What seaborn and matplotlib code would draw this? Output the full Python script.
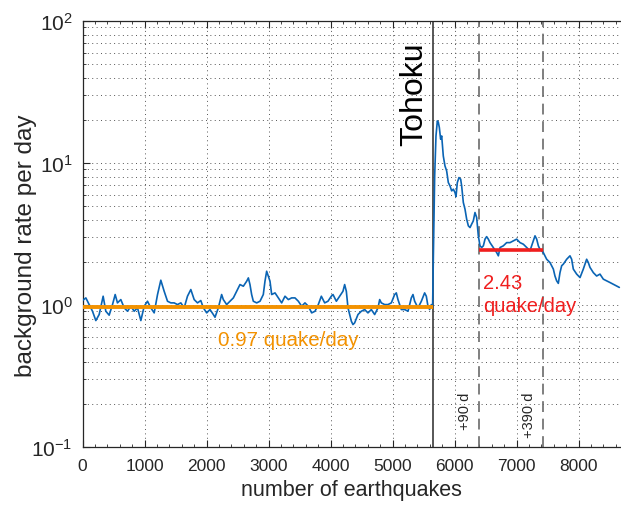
import numpy as np
import pandas as pd
import matplotlib
matplotlib.use("Agg")
import matplotlib.pyplot as plt
import seaborn as sns
from matplotlib.ticker import LogLocator, MultipleLocator, NullFormatter

# ---------------- data ----------------
eq_before = [0, 54, 108, 161, 215, 269, 333, 376, 430, 484, 527, 564, 618, 672, 726, 780,
             833, 887, 941, 995, 1048, 1102, 1156, 1210, 1263, 1317, 1371, 1425, 1478, 1532,
             1586, 1640, 1693, 1747, 1801, 1855, 1908,
             1949, 2003, 2056, 2110, 2137, 2191, 2244, 2271, 2325, 2379, 2433, 2486, 2540,
             2594, 2648, 2675, 2701, 2728, 2755, 2809, 2863, 2916, 2943, 2970, 2997, 3024,
             3051, 3105, 3158, 3212, 3266, 3320, 3373, 3427, 3481, 3535, 3588, 3642, 3696,
             3750, 3803,
             3852, 3906, 3959, 4013, 4040, 4094, 4147, 4201, 4228, 4255, 4282, 4309, 4336,
             4362, 4389, 4443, 4497, 4551, 4604, 4658, 4712, 4766, 4793, 4819, 4873, 4927,
             4981, 5034, 5061, 5088, 5142, 5196, 5250, 5303, 5330, 5357, 5411, 5465, 5518,
             5545, 5572, 5599, 5626]
rate_before = [1.075, 1.122, 1.007, 0.904, 0.777, 0.857, 1.153, 0.904, 0.848, 1.007, 1.185,
               1.035, 1.092, 0.955, 0.904, 0.980, 0.904, 0.955, 0.777, 0.980, 1.063, 0.955,
               0.880, 1.185, 1.495, 1.250, 1.063, 1.035, 1.035, 1.007, 1.035, 0.955, 1.153,
               1.285, 1.092, 1.035, 1.075,
               0.955, 0.880, 0.929, 0.857, 0.820, 0.955, 1.185, 1.092, 1.007, 1.063, 1.122,
               1.250, 1.393, 1.356, 1.471, 1.552, 1.393, 1.185, 1.063, 1.035, 1.063, 1.185,
               1.471, 1.729, 1.595, 1.471, 1.185, 1.217, 1.122, 1.035, 1.153, 1.092, 1.122,
               1.122, 1.063, 0.980, 1.035, 0.980, 0.880, 0.904, 1.007,
               1.153, 1.035, 1.063, 1.153, 1.185, 1.063, 1.153, 1.250, 1.393, 1.250, 0.955,
               0.857, 0.769, 0.728, 0.748, 0.857, 0.904, 0.929, 0.880, 0.929, 0.857, 0.955,
               1.092, 1.035, 1.007, 1.007, 1.035, 1.185, 1.217, 1.092, 0.929, 0.929, 0.904,
               1.122, 1.185, 1.063, 0.955, 1.063, 1.217, 1.153, 0.980, 0.929, 1.007]

eq_after = [5647, 5658, 5680, 5701, 5723, 5739, 5755, 5776, 5793, 5819, 5846, 5873, 5900,
            5927, 5954, 5981, 6008, 6024, 6045, 6072, 6099, 6115, 6142, 6169, 6196, 6223,
            6250, 6276, 6303, 6330, 6357, 6384, 6411, 6438, 6465, 6492, 6518, 6545, 6572,
            6626, 6680, 6707, 6734, 6787, 6841, 6895, 6948, 7002, 7056, 7110, 7163, 7217,
            7244, 7271, 7298, 7325, 7352, 7378, 7432, 7486, 7540, 7594, 7620, 7647, 7674,
            7701, 7728, 7755, 7809, 7862, 7889, 7916, 7970, 8024, 8077, 8131, 8158, 8185,
            8239, 8292, 8346, 8400, 8454, 8507, 8561, 8615, 8658]
rate_after = [0.986, 2.10, 8.11, 15.5, 19.8, 19.3, 17.8, 14.7, 15.5, 11.2, 9.54, 8.80, 7.28,
              6.90, 6.36, 6.54, 6.19, 5.80, 7.28, 7.90, 7.69, 6.90, 5.27, 4.73, 4.02, 3.61,
              3.51, 3.71, 3.91, 4.48, 4.13, 3.07, 2.61, 2.54, 2.61, 2.91, 3.03, 2.91, 2.75,
              2.54, 2.34, 2.22, 2.54, 2.61, 2.75, 2.75, 2.83, 2.91, 2.75, 2.68, 2.54, 2.41,
              2.61, 2.83, 3.07, 2.91, 2.61, 2.47, 2.34, 2.10, 1.99, 1.79, 1.60, 1.48, 1.42,
              1.69, 1.89, 1.94, 2.10, 2.22, 2.10, 1.79, 1.65, 1.56, 1.79, 2.10, 1.99, 1.84,
              1.69, 1.60, 1.65, 1.52, 1.48, 1.44, 1.40, 1.36, 1.33]

tohoku_eq = 5647
dashed_eq = [6390, 7430]
dashed_labels = ["+90 d", "+390 d"]
rate_pre = 0.97
rate_post = 2.43
xmax = 8685

df = pd.DataFrame({"eq": eq_before + eq_after, "rate": rate_before + rate_after})

# ---------------- style ----------------
sns.set_theme(style="ticks")
plt.rcParams["font.family"] = ["Liberation Sans", "DejaVu Sans"]
plt.rcParams["mathtext.fontset"] = "custom"
plt.rcParams["mathtext.rm"] = "Liberation Sans"
plt.rcParams["mathtext.it"] = "Liberation Sans:italic"

fig = plt.figure(figsize=(6.21, 5.06), dpi=100)
ax = fig.add_axes([82.5 / 621, 58 / 506, 538.5 / 621, 426 / 506])

sns.lineplot(data=df, x="eq", y="rate", ax=ax, color="#0a64b4", lw=1.2,
             estimator=None, sort=False, zorder=3)

ax.set_yscale("log")
ax.set_ylim(0.1, 100)
ax.set_xlim(0, xmax)

# reference lines
ax.hlines(rate_pre, 0, tohoku_eq, color="#f39200", lw=2.8, zorder=4)
ax.hlines(rate_post, dashed_eq[0], dashed_eq[1], color="#f01e1e", lw=2.6, zorder=4)
ax.axvline(tohoku_eq, color="#3a3a3a", lw=1.2, zorder=2)
for xd in dashed_eq:
    ax.axvline(xd, color="#6a6a6a", lw=1.2, ls=(0, (6.5, 4)), zorder=2)

# grid
dot = (0, (1, 3.5))
ax.grid(which="major", axis="x", ls=dot, color="#555555", lw=0.7)
ax.grid(which="both", axis="y", ls=dot, color="#555555", lw=0.7)
ax.set_axisbelow(True)

# ticks
ax.xaxis.set_major_locator(MultipleLocator(1000))
ax.xaxis.set_minor_locator(MultipleLocator(200))
ax.yaxis.set_major_locator(LogLocator(base=10))
ax.yaxis.set_minor_locator(LogLocator(base=10, subs=np.arange(2, 10)))
ax.yaxis.set_minor_formatter(NullFormatter())
ax.tick_params(which="both", direction="in", top=True, right=False, colors="#262626")
ax.tick_params(axis="x", labelsize=12.5, pad=8)
ax.tick_params(axis="y", labelsize=15, pad=7)
ax.tick_params(which="major", length=5, width=0.8)
ax.tick_params(which="minor", length=2.5, width=0.6)

for s in ["left", "bottom", "top"]:
    ax.spines[s].set_color("#262626")
    ax.spines[s].set_linewidth(0.9)
ax.spines["right"].set_visible(False)

ax.set_xlabel("number of earthquakes", fontsize=15.5, color="#262626", labelpad=4)
ax.set_ylabel("background rate per day", fontsize=17.5, color="#262626")
ax.yaxis.set_label_coords(-0.085, 0.475)

# annotations
ax.text(5590, 31, "Tohoku", rotation=90, ha="right", va="center",
        fontsize=23, color="black")
ax.text(6170, 0.18, dashed_labels[0], rotation=90, ha="center", va="center",
        fontsize=10.5, color="#262626")
ax.text(7200, 0.17, dashed_labels[1], rotation=90, ha="center", va="center",
        fontsize=10.5, color="#262626")
ax.text(2185, 0.575, f"{rate_pre:.2f} quake/day", ha="left", va="center",
        fontsize=14.8, color="#f39200")
ax.text(6460, 1.45, f"{rate_post:.2f}", ha="left", va="center",
        fontsize=14.5, color="#f01e1e")
ax.text(6460, 1.0, "quake/day", ha="left", va="center",
        fontsize=14.5, color="#f01e1e")

fig.savefig("out.png", dpi=100)
